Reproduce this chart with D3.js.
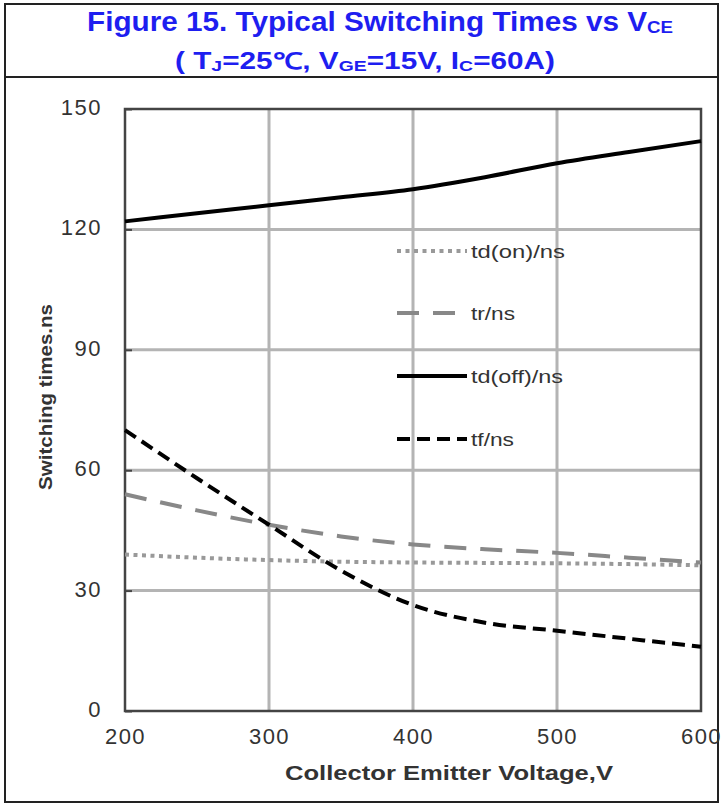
<!DOCTYPE html>
<html>
<head>
<meta charset="utf-8">
<script src="https://cdn.jsdelivr.net/npm/d3@7"></script>
<style>
  body { margin: 0; background: #fff; }
  svg { display: block; font-family: "Liberation Sans", Arial, sans-serif; }
</style>
</head>
<body>
<script>
// values
var voltage = [200, 250, 300, 350, 400, 450, 500, 550, 600];
var tdOn  = [39, 38.2, 37.6, 37.2, 37, 36.9, 36.8, 36.6, 36.3];
var tr    = [54, 50, 46.4, 43.5, 41.5, 40.3, 39.4, 38.2, 37];
var tdOff = [122, 124, 126, 128, 130, 133, 136.5, 139.3, 142];
var tf    = [70, 58, 46.4, 35, 26.4, 22, 20, 18, 16];

var xTicks = [200, 300, 400, 500, 600];
var yTicks = [0, 30, 60, 90, 120, 150];

var seriesNames = ["td(on)/ns", "tr/ns", "td(off)/ns", "tf/ns"];
var seriesValues = [tdOn, tr, tdOff, tf];
var seriesStyle = [
  { colour: "#999999", dash: "4,4.5", width: 4 },
  { colour: "#888888", dash: "22,14", width: 4 },
  { colour: "#000000", dash: null, width: 4 },
  { colour: "#000000", dash: "13,7", width: 4 }
];

var width = 722, height = 806;
var margin = { left: 125, right: 21, top: 109, bottom: 95 };

var svg = d3.select("body").append("svg")
  .attr("width", width)
  .attr("height", height);

// outer frame and title box
svg.append("rect")
  .attr("x", 5).attr("y", 4)
  .attr("width", 713).attr("height", 798)
  .attr("fill", "none")
  .attr("stroke", "#222")
  .attr("stroke-width", 2);

svg.append("line")
  .attr("x1", 5).attr("x2", 718)
  .attr("y1", 77).attr("y2", 77)
  .attr("stroke", "#222")
  .attr("stroke-width", 2);

var title = svg.append("g")
  .attr("fill", "#1e1ef0")
  .attr("font-weight", "bold");

// fitted to the width the original title takes
var t1 = title.append("text").attr("x", 87).attr("y", 31).attr("font-size", 27)
  .attr("textLength", 586).attr("lengthAdjust", "spacingAndGlyphs");
t1.append("tspan").text("Figure 15. Typical Switching Times vs V");
t1.append("tspan").attr("font-size", 17).attr("dy", 2).text("CE");

var t2 = title.append("text").attr("x", 175).attr("y", 69).attr("font-size", 23)
  .attr("textLength", 380).attr("lengthAdjust", "spacingAndGlyphs");
t2.append("tspan").text("( T");
t2.append("tspan").attr("font-size", 15).attr("dy", 2).text("J");
t2.append("tspan").attr("dy", -2).text("=25\u2103, V");
t2.append("tspan").attr("font-size", 15).attr("dy", 2).text("GE");
t2.append("tspan").attr("dy", -2).text("=15V, I");
t2.append("tspan").attr("font-size", 15).attr("dy", 2).text("C");
t2.append("tspan").attr("dy", -2).text("=60A)");

var x = d3.scaleLinear()
  .domain([200, 600])
  .range([margin.left, width - margin.right]);

var y = d3.scaleLinear()
  .domain([0, 150])
  .range([height - margin.bottom, margin.top]);

// grid
var g = svg.append("g");

g.append("g")
  .selectAll("line")
  .data(xTicks.slice(1, -1))
  .enter().append("line")
  .attr("x1", function(d) { return x(d); })
  .attr("x2", function(d) { return x(d); })
  .attr("y1", y(0)).attr("y2", y(150))
  .attr("stroke", "#b4b4b4")
  .attr("stroke-width", 3);

g.append("g")
  .selectAll("line")
  .data(yTicks.slice(1, -1))
  .enter().append("line")
  .attr("x1", x(200)).attr("x2", x(600))
  .attr("y1", function(d) { return y(d); })
  .attr("y2", function(d) { return y(d); })
  .attr("stroke", "#b4b4b4")
  .attr("stroke-width", 3);

// axes
var xAxis = svg.append("g")
  .attr("transform", "translate(0," + y(0) + ")")
  .call(d3.axisBottom(x).tickValues(xTicks).tickSize(0).tickPadding(17));

var yAxis = svg.append("g")
  .attr("transform", "translate(" + x(200) + ",0)")
  .call(d3.axisLeft(y).tickValues(yTicks).tickSize(-7).tickPadding(23));

[xAxis, yAxis].forEach(function(a) {
  a.select(".domain").remove();
  a.selectAll("line").attr("stroke", "#444").attr("stroke-width", 2);
  a.selectAll("text")
    .attr("font-family", "\"Liberation Sans\", Arial, sans-serif")
    .attr("font-size", 22)
    .attr("fill", "#333")
    .attr("letter-spacing", 1.5);
});
yAxis.selectAll("text").attr("dy", "0.25em");

// plot frame
svg.append("rect")
  .attr("x", x(200)).attr("y", y(150))
  .attr("width", x(600) - x(200))
  .attr("height", y(0) - y(150))
  .attr("fill", "none")
  .attr("stroke", "#444")
  .attr("stroke-width", 2.5);

// series
var line = d3.line()
  .x(function(d) { return x(d[0]); })
  .y(function(d) { return y(d[1]); })
  .curve(d3.curveMonotoneX);

for (var i = 0; i < seriesValues.length; i++) {
  var pts = voltage.map(function(v, j) { return [v, seriesValues[i][j]]; });
  svg.append("path")
    .datum(pts)
    .attr("d", line)
    .attr("fill", "none")
    .attr("stroke", seriesStyle[i].colour)
    .attr("stroke-width", seriesStyle[i].width)
    .attr("stroke-dasharray", seriesStyle[i].dash);
}

// legend
var legend = svg.append("g");
var legendRowY = [251, 313, 376, 439];
var legendTextLen = [94, 44, 92, 43];

for (var k = 0; k < seriesNames.length; k++) {
  legend.append("line")
    .attr("x1", 397).attr("x2", 467)
    .attr("y1", legendRowY[k]).attr("y2", legendRowY[k])
    .attr("stroke", seriesStyle[k].colour)
    .attr("stroke-width", seriesStyle[k].width)
    .attr("stroke-dasharray", seriesStyle[k].dash);
  legend.append("text")
    .attr("x", 471).attr("y", legendRowY[k] + 7)
    .attr("font-size", 19)
    .attr("fill", "#333")
    .attr("textLength", legendTextLen[k])
    .attr("lengthAdjust", "spacingAndGlyphs")
    .text(seriesNames[k]);
}

// axis titles
svg.append("text")
  .attr("x", 285).attr("y", 780)
  .attr("font-size", 20)
  .attr("font-weight", "bold")
  .attr("fill", "#333")
  .attr("textLength", 328)
  .attr("lengthAdjust", "spacingAndGlyphs")
  .text("Collector Emitter Voltage,V");

svg.append("text")
  .attr("transform", "translate(52,490) rotate(-90)")
  .attr("font-size", 19)
  .attr("font-weight", "bold")
  .attr("fill", "#333")
  .attr("textLength", 186)
  .attr("lengthAdjust", "spacingAndGlyphs")
  .text("Switching times.ns");
</script>
</body>
</html>
